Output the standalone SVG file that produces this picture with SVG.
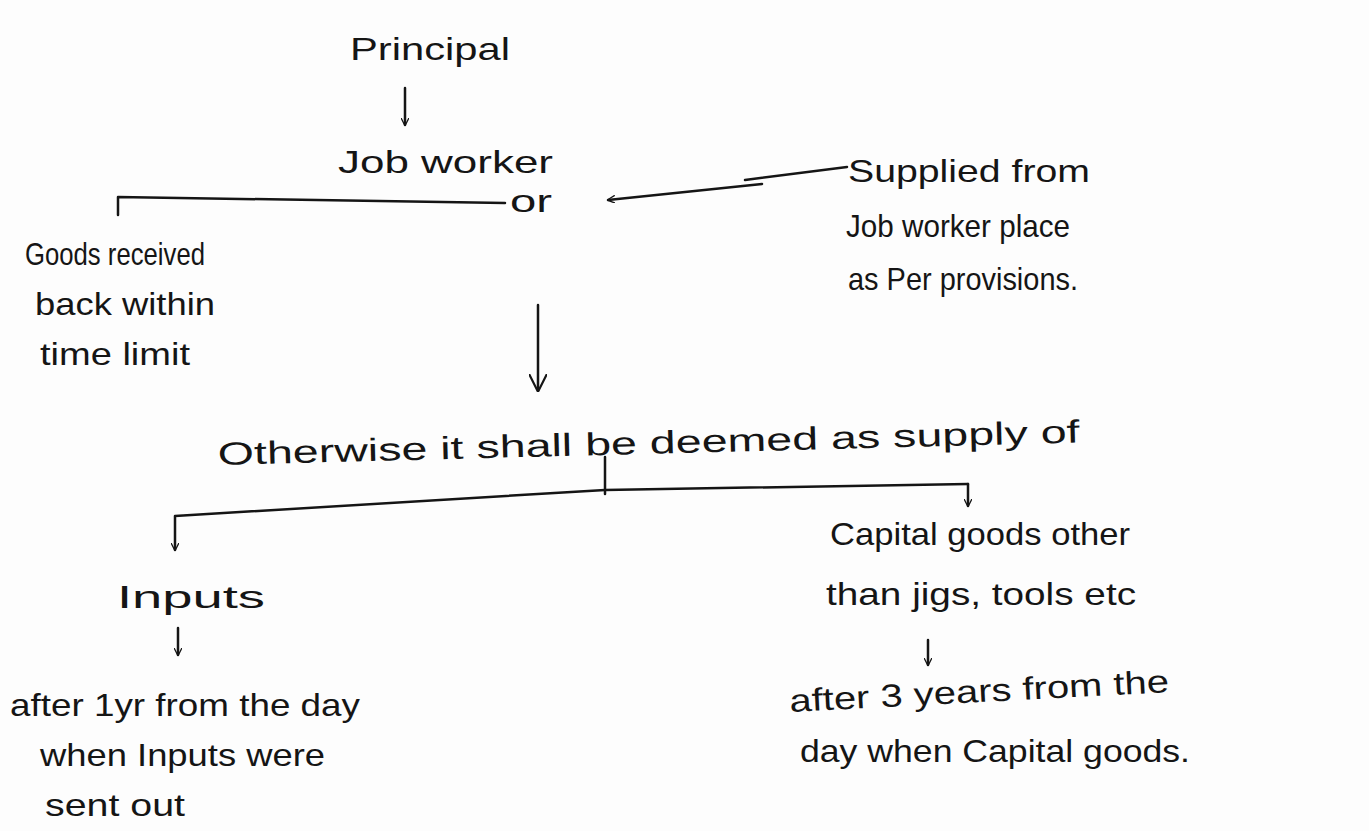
<svg xmlns="http://www.w3.org/2000/svg" width="1369" height="831" viewBox="0 0 1369 831">
<defs>
<style>
.t{font-family:"Liberation Sans",Arial,sans-serif;fill:#151515;font-size:32px}
.l{fill:none;stroke:#151515;stroke-width:2.5;stroke-linecap:round;stroke-linejoin:round}
</style>
<marker id="ah" viewBox="0 0 10 10" refX="9" refY="5" markerWidth="8" markerHeight="8" orient="auto" markerUnits="userSpaceOnUse">
<path d="M0,0 L10,5 L0,10" fill="none" stroke="#151515" stroke-width="1.6"/>
</marker>
<marker id="ahb" viewBox="0 0 10 10" refX="9" refY="5" markerWidth="18" markerHeight="18" orient="auto" markerUnits="userSpaceOnUse">
<path d="M0,0 L10,5 L0,10" fill="none" stroke="#151515" stroke-width="1.2"/>
</marker>
</defs>
<rect width="1369" height="831" fill="#fdfdfd"/>
<g id="principal"><text class="t" x="350" y="60" font-size="40" textLength="160" lengthAdjust="spacingAndGlyphs">Principal</text></g>
<g id="job-worker"><text class="t" x="338" y="173" font-size="30" textLength="215" lengthAdjust="spacingAndGlyphs">Job worker</text></g>
<g id="or"><text class="t" x="510" y="212" font-size="32" textLength="42" lengthAdjust="spacingAndGlyphs">or</text></g>
<g id="goods-received">
<text class="t" x="25" y="265" font-size="30" textLength="180" lengthAdjust="spacingAndGlyphs">Goods received</text>
<text class="t" x="35" y="315" font-size="30" textLength="180" lengthAdjust="spacingAndGlyphs">back within</text>
<text class="t" x="40" y="365" font-size="30" textLength="150" lengthAdjust="spacingAndGlyphs">time limit</text>
</g>
<g id="supplied-from">
<text class="t" x="848" y="182" font-size="32" textLength="242" lengthAdjust="spacingAndGlyphs">Supplied from</text>
<text class="t" x="846" y="237" font-size="32" textLength="224" lengthAdjust="spacingAndGlyphs">Job worker place</text>
<text class="t" x="848" y="290" font-size="32" textLength="230" lengthAdjust="spacingAndGlyphs">as Per provisions.</text>
</g>
<g id="otherwise"><text class="t" x="218" y="465" font-size="36" textLength="862" lengthAdjust="spacingAndGlyphs" transform="rotate(-1.5 218 465)">Otherwise it shall be deemed as supply of</text></g>
<g id="inputs"><text class="t" x="117" y="608" font-size="32" textLength="148" lengthAdjust="spacingAndGlyphs">Inputs</text></g>
<g id="inputs-time">
<text class="t" x="10" y="716" font-size="32" textLength="350" lengthAdjust="spacingAndGlyphs">after 1yr from the day</text>
<text class="t" x="40" y="766" font-size="32" textLength="285" lengthAdjust="spacingAndGlyphs">when Inputs were</text>
<text class="t" x="45" y="816" font-size="32" textLength="140" lengthAdjust="spacingAndGlyphs">sent out</text>
</g>
<g id="capital-goods">
<text class="t" x="830" y="545" font-size="32" textLength="300" lengthAdjust="spacingAndGlyphs">Capital goods other</text>
<text class="t" x="826" y="605" font-size="32" textLength="310" lengthAdjust="spacingAndGlyphs">than jigs, tools etc</text>
</g>
<g id="capital-time">
<text class="t" x="790" y="712" font-size="32" textLength="380" lengthAdjust="spacingAndGlyphs" transform="rotate(-3 790 712)">after 3 years from the</text>
<text class="t" x="800" y="762" font-size="32" textLength="390" lengthAdjust="spacingAndGlyphs">day when Capital goods.</text>
</g>
<g id="connectors">
<path class="l" d="M405,88 L405,125" marker-end="url(#ah)"/>
<path class="l" d="M118,215 L118,197 Q300,200 505,203"/>
<path class="l" d="M847,167 L745,180"/>
<path class="l" d="M762,184 L608,200" marker-end="url(#ah)"/>
<path class="l" d="M538,305 L538,390" marker-end="url(#ahb)"/>
<path class="l" d="M605,457 L605,494"/>
<path class="l" d="M968,484 L968,506" marker-end="url(#ah)"/>
<path class="l" d="M968,484 L605,490 L175,516 L175,550" marker-start="none" marker-end="url(#ah)"/>
<path class="l" d="M178,628 L178,655" marker-end="url(#ah)"/>
<path class="l" d="M928,640 L928,665" marker-end="url(#ah)"/>
</g>
</svg>
